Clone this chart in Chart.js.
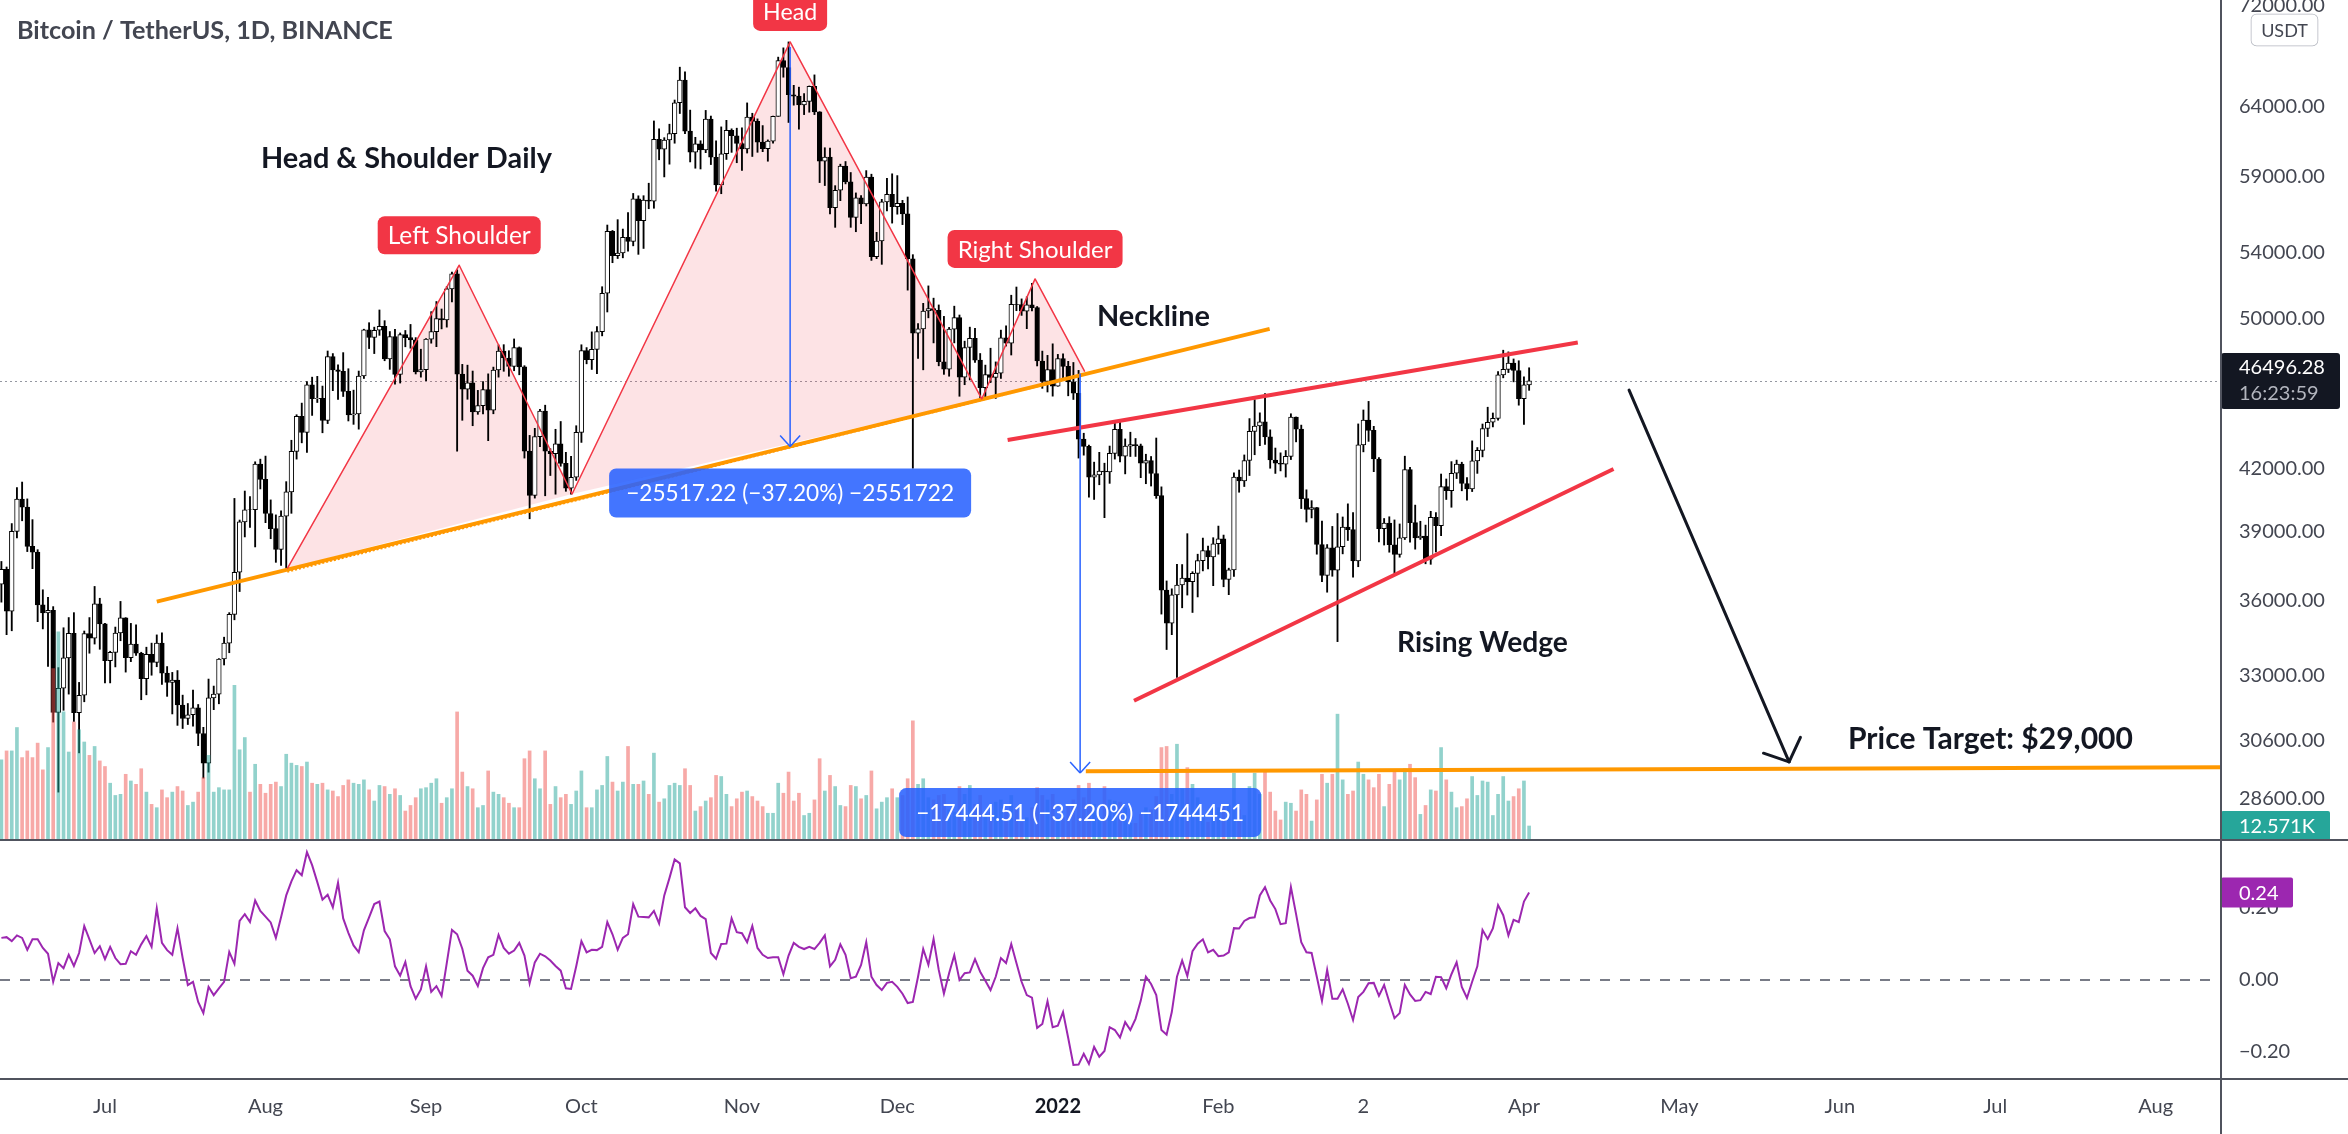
<!DOCTYPE html>
<html><head><meta charset="utf-8">
<script src="https://cdn.jsdelivr.net/npm/chart.js@4.4.1/dist/chart.umd.min.js"></script>
<style>
html,body{margin:0;padding:0;background:#fff;}
body{width:2348px;height:1134px;position:relative;overflow:hidden;}
#main{position:absolute;left:0;top:0;}
#osc{position:absolute;left:0;top:840px;}
.sep{position:absolute;background:#50535e;}
</style></head><body>
<canvas id="main" width="2348" height="840"></canvas>
<canvas id="osc" width="2348" height="294"></canvas>
<div class="sep" style="left:2220px;top:0;width:2px;height:1134px"></div>
<div class="sep" style="left:0;top:839px;width:2348px;height:2px"></div>
<div class="sep" style="left:0;top:1078px;width:2348px;height:2px"></div>
<script>
// ---- DATA: BTC/USDT daily candles, day index 0 = 2021-06-11 ----
const opens=[36694,37340,35556,39021,40517,40144,38350,38093,35820,35484,35601,31608,32510,33679,34660,31594,32243,34650,34456,35867,
35041,33572,33897,34668,35287,33691,34221,33862,32875,33815,33502,34259,33086,32730,32820,31880,31384,31521,31778,30839,29791,32144,32288,33634,34259,35426,37208,39457,40020,40017,42207,
41462,39846,39147,38208,39723,40862,42836,44614,43792,46285,45544,45567,44400,47834,47099,47019,45936,44687,44742,46763,49339,48905,49321,49547,47707,48960,46843,49069,48896,48768,46991,
47111,48811,49246,49999,49915,51756,52663,46863,46048,46395,44851,45174,46026,44940,47093,48133,47753,47281,48330,47260,42844,40694,43574,44896,42840,42716,43209,42236,41034,41564,
43791,48165,47657,48234,49246,51493,55339,53797,53964,54963,54691,57484,56041,57401,57321,61593,60892,61553,62010,64280,66002,62194,60689,61286,60852,63079,60329,58413,60575,62253,61859,
61300,60912,63220,62897,61395,60937,61471,63273,67525,66971,64883,64774,64122,64380,65519,63607,60058,60345,56892,58052,59707,58622,56247,57541,57139,58960,53726,54721,57274,57776,
56950,57184,56480,53602,49153,49397,50441,50589,50472,47545,47140,49390,50054,46702,48343,48864,47632,46131,46834,46681,46914,48890,48589,50838,50821,50429,50809,50640,47588,46464,47120,
46216,47722,47286,46446,45832,43451,43082,41566,41679,41864,41822,42735,43950,42592,43099,43177,43113,42250,42375,41744,40680,36445,35071,36244,36661,36958,36809,37160,37716,38166,37881,
38466,38691,36897,37311,41574,41382,42380,43840,44118,44339,43565,42407,42244,42197,42586,44575,43961,40538,40031,40122,38431,37075,38287,37296,38332,39214,39106,37700,
43160,44421,43892,42455,39148,39397,38420,37988,38730,41941,39422,38730,38807,37777,39671,39280,41114,40918,41757,42201,41262,41002,42364,42882,43991,44313,44511,46828,47128,47465,47063,
45538,46282];
const highs=[37680,37439,39380,41064,41330,40528,39560,38200,36457,36139,35750,33299,34881,35298,35500,32730,34749,35297,36600,36100,
35060,33939,34909,35967,35293,35059,35000,33900,34100,34262,34592,34679,33340,33114,33185,32249,31936,32435,31899,31063,32858,32591,33650,34500,35500,40550,39542,40900,40640,42317,42448,
42599,40480,39780,39969,41350,43392,44700,45310,46454,46700,46743,46218,48144,48000,47372,48053,47160,46000,47033,49382,49757,49500,50500,49875,49248,49380,49165,49309,49657,48900,48245,
48843,50400,51000,50558,51900,52780,52920,47400,47357,47034,45987,46460,46880,47250,48486,48500,48160,48825,48372,47328,43639,44000,44978,45200,42966,43950,44350,42787,42590,44132,
48495,48336,49228,49536,51886,55750,55400,56100,55490,56561,57839,57680,57687,58532,62933,62360,61720,62695,64486,67000,66639,63732,61747,61500,63710,63293,61496,62499,62980,62359,62405,
62437,64270,63500,63086,62595,61560,63286,67789,68524,69000,65600,65460,64971,65550,66401,63617,61000,60977,58366,59845,60029,59266,57875,57700,59398,59150,55280,57445,58865,59176,
59053,57375,57600,53859,49699,50891,51936,51200,50797,50125,49485,50724,50205,48700,49500,49436,48004,47360,48300,47537,49328,49576,51375,51868,51156,51280,52088,50704,48139,47900,48548,
47954,47990,47570,47505,47070,43748,43145,42300,42786,42248,43100,44322,44459,43459,43800,43480,43199,42691,42579,43505,41100,36835,36499,37550,37545,38919,37234,38000,38720,38359,38737,
39265,38856,37387,41772,41913,42656,44500,45492,44799,45821,43921,43000,42760,42876,44751,44583,44164,40959,40444,40125,39494,38429,39249,39843,39683,40295,39886,44225,
44949,45400,44101,42527,39613,39693,39547,39362,42594,42039,40236,39486,39310,39947,39887,41718,41478,42325,42400,42296,41544,43361,43025,44220,45094,44792,46999,48189,48096,47700,47600,
46720,47213];
const lows=[35936,34600,34758,38730,39507,38116,37365,35129,34834,33350,31252,28805,31684,32287,31275,30152,32000,33862,34225,34017,
32712,32711,33326,34357,33125,33532,33780,32077,32261,33005,33333,32658,32203,31550,31133,31020,31164,31108,30407,29278,29482,31708,31925,33401,33881,35205,36383,38772,39200,38323,41000,
39422,38691,37642,37508,37332,39853,42450,43261,42779,44665,45341,43771,44242,45971,45500,45660,44377,44203,43956,46628,48280,48000,49030,47600,47126,46320,46380,48380,48300,46873,46700,
46513,48584,48387,49400,49500,50969,42843,44412,45513,44132,44722,44742,43370,44750,46700,47020,46750,47050,46829,42500,39600,40565,43069,40675,41646,40750,42098,40888,40753,41410,
43283,47430,47120,46891,49000,50382,53357,53617,53661,54080,54415,53879,54250,56818,56850,60150,58963,59844,61322,63481,62000,60000,59562,59510,60650,59817,58000,57820,60174,60673,59945,
59405,60624,60382,60677,60721,60050,61322,63273,66222,62822,64100,62333,63400,63576,63400,58575,58373,56474,55600,57353,58486,55600,55317,55837,57000,53500,53610,53256,56666,55875,
56458,55777,51680,42000,47727,47100,50039,48600,47320,46852,46751,48600,45672,46290,46547,47511,45500,45524,46406,45558,46630,48421,47920,50456,50182,49412,50449,47313,46096,45900,45678,
46208,46654,45696,45502,42500,42645,40610,40501,41200,39650,41268,42450,42311,41725,42578,42581,41541,41250,41139,40553,35440,34008,34601,32917,35701,36234,35507,36155,37268,37351,36632,
38000,36586,36250,37026,40843,41116,41645,42666,43117,43188,42000,41748,41870,41571,42428,43310,40073,39450,39639,38000,36800,36355,37036,34322,38015,38612,37000,37450,
42809,43335,41832,38550,38407,38088,37155,37867,38656,38539,38223,38660,37578,37555,38098,38828,40500,40135,41499,40911,40467,40875,41750,42560,43579,44071,44421,46663,46950,46445,45200,
44200,45988];
const closes=[37340,35556,39021,40517,40144,38350,38093,35820,35484,35601,31608,32510,33679,34660,31594,32243,34650,34456,35867,35041,
33572,33897,34668,35287,33691,34221,33862,32875,33815,33502,34259,33086,32730,32820,31880,31384,31521,31778,30839,29791,32144,32288,33634,34259,35426,37208,39457,40020,40017,42207,41462,
39846,39147,38208,39723,40862,42836,44614,43792,46285,45544,45567,44400,47834,47099,47019,45936,44687,44742,46763,49339,48905,49321,49547,47707,48960,46843,49069,48896,48768,46991,47111,
48811,49246,49999,49915,51756,52663,46863,46048,46395,44851,45174,46026,44940,47093,48133,47753,47281,48330,47260,42844,40694,43574,44896,42840,42716,43209,42236,41034,41564,43791,
48165,47657,48234,49246,51493,55339,53797,53964,54963,54691,57484,56041,57401,57321,61593,60892,61553,62010,64280,66002,62194,60689,61286,60852,63079,60329,58413,60575,62253,61859,61300,
60912,63220,62897,61395,60937,61471,63273,67525,66971,64883,64774,64122,64380,65519,63607,60058,60345,56892,58052,59707,58622,56247,57541,57139,58960,53726,54721,57274,57776,56950,
57184,56480,53602,49153,49397,50441,50589,50472,47545,47140,49390,50054,46702,48343,48864,47632,46131,46834,46681,46914,48890,48589,50838,50821,50429,50809,50640,47588,46464,47120,46216,
47722,47286,46446,45832,43451,43082,41566,41679,41864,41822,42735,43950,42592,43099,43177,43113,42250,42375,41744,40680,36445,35071,36244,36661,36958,36809,37160,37716,38166,37881,38466,
38691,36897,37311,41574,41382,42380,43840,44118,44339,43565,42407,42244,42197,42586,44575,43961,40538,40031,40122,38431,37075,38287,37296,38332,39214,39106,37700,43160,
44421,43892,42455,39148,39397,38420,37988,38730,41941,39422,38730,38807,37777,39671,39280,41114,40918,41757,42201,41262,41002,42364,42882,43991,44313,44511,46828,47128,47465,47063,45538,
46282,46496.28];
const volumesK=[72,80,80,101,74,80,74,87,63,83,154,187,115,79,106,99,88,76,84,71,
66,51,40,41,59,53,50,64,43,32,29,45,38,43,48,44,31,34,43,56,76,43,47,45,45,139,81,92,43,68,
50,42,50,52,48,77,69,67,66,70,51,50,51,45,44,39,49,54,51,50,54,45,35,49,48,41,46,40,26,31,
38,46,47,51,55,33,38,46,115,61,48,46,29,31,62,43,41,38,33,29,29,73,80,55,46,80,32,48,38,41,
32,44,62,29,29,45,49,75,52,44,52,84,50,50,53,41,78,34,37,49,51,49,64,49,26,30,35,38,58,57,
41,30,37,43,44,39,35,30,24,24,51,42,61,35,42,22,24,36,73,44,58,48,31,30,49,48,37,40,62,28,
34,38,46,38,40,55,107,50,55,38,36,40,41,27,25,48,41,49,32,40,23,25,34,36,27,40,27,16,20,29,
47,40,36,41,20,20,30,36,49,38,51,32,20,48,36,35,34,29,15,15,23,29,27,39,83,84,41,86,46,65,
50,38,20,16,28,29,31,31,60,27,22,48,60,41,61,43,26,18,34,33,26,45,41,17,36,59,51,59,113,54,
41,44,70,59,54,47,59,30,50,61,54,64,68,56,23,31,45,44,83,54,43,29,30,37,57,40,53,52,22,41,
57,35,39,46,53,12.571];
const oscValues=[0.117,0.119,0.108,0.124,0.117,0.084,0.113,0.113,0.089,0.073,
-0.005,0.047,0.033,0.070,0.039,0.075,0.150,0.113,0.075,0.094,
0.058,0.092,0.061,0.044,0.045,0.080,0.070,0.099,0.122,0.092,
0.199,0.103,0.083,0.070,0.144,0.061,-0.014,-0.005,-0.061,-0.092,
-0.019,-0.042,-0.023,-0.005,0.078,0.045,0.164,0.183,0.161,0.221,
0.192,0.176,0.160,0.117,0.174,0.235,0.274,0.305,0.291,0.355,
0.319,0.272,0.223,0.237,0.202,0.270,0.171,0.131,0.096,0.077,
0.138,0.174,0.211,0.218,0.136,0.113,0.038,0.012,0.050,-0.017,
-0.052,-0.026,0.038,-0.033,-0.017,-0.044,0.047,0.139,0.127,0.087,
0.026,0.012,-0.017,0.033,0.063,0.070,0.125,0.089,0.073,0.082,
0.103,0.068,-0.009,0.049,0.073,0.066,0.054,0.039,0.026,-0.023,
-0.025,0.038,0.108,0.077,0.084,0.083,0.092,0.161,0.127,0.084,
0.117,0.127,0.211,0.176,0.175,0.174,0.192,0.157,0.235,0.283,
0.335,0.324,0.202,0.186,0.199,0.178,0.169,0.075,0.059,0.100,
0.101,0.171,0.133,0.130,0.105,0.150,0.089,0.070,0.061,0.063,
0.063,0.016,0.068,0.103,0.092,0.086,0.092,0.086,0.103,0.124,
0.038,0.056,0.099,0.070,0.005,0.009,0.042,0.105,0.009,-0.014,
-0.028,-0.008,-0.005,-0.019,-0.038,-0.064,-0.061,0.009,0.086,0.042,
0.114,0.028,-0.038,0.019,0.069,0.000,0.019,0.021,0.058,0.023,
-0.002,-0.028,0.009,0.061,0.047,0.100,0.047,-0.005,-0.042,-0.049,
-0.133,-0.122,-0.059,-0.131,-0.127,-0.089,-0.161,-0.236,-0.235,-0.205,
-0.233,-0.186,-0.213,-0.197,-0.131,-0.139,-0.160,-0.117,-0.139,-0.108,
-0.058,0.009,-0.011,-0.042,-0.139,-0.152,-0.089,0.009,0.054,0.011,
0.080,0.101,0.113,0.077,0.084,0.066,0.068,0.077,0.144,0.143,
0.164,0.172,0.174,0.235,0.258,0.221,0.197,0.155,0.158,0.258,
0.183,0.105,0.077,0.075,0.009,-0.058,0.028,-0.052,-0.052,-0.026,
-0.066,-0.111,-0.047,-0.033,-0.009,-0.008,-0.044,-0.014,-0.061,-0.106,
-0.092,-0.014,-0.040,-0.058,-0.056,-0.033,-0.039,0.009,0.008,-0.023,
0.016,0.049,-0.019,-0.050,-0.005,0.038,0.139,0.114,0.143,0.208,
0.180,0.124,0.167,0.161,0.218,0.243];
const priceTicks=[28600,30600,33000,36000,39000,42000,50000,54000,59000,64000,72000];
const oscTicks=[-0.2,0,0.2];
const monthTickDays=[20,51,82,112,143,173,204,235,263,294,324,355,385,416];
const monthLabels=['Jul','Aug','Sep','Oct','Nov','Dec','2022','Feb','2','Apr','May','Jun','Jul','Aug'];
const countdownText='16:23:59';
// drawings, in (day index, price)
const hsPoints=[[55.2,37365],[88.4,53200],[110.2,40760],[152.3,69000],[189.3,45530],[199.6,52360],[209.2,47000]];
const necklineLine=[[30.0,35960],[244.9,49400]];
const wedgeUpper=[[194.3,43400],[304.4,48620]];
const wedgeLower=[[218.7,32040],[311.3,41960]];
const targetLine=[[209.4,29510],[428.6,29650]];
const forecastArrow=[[314.3,46000],[345.2,29840]];
const measureDays=[152.3,208.3];
const measureFrom=[68595,46894];
const measureTo=[43078,29450];
const measureTexts=['\u221225517.22 (\u221237.20%) \u22122551722','\u221217444.51 (\u221237.20%) \u22121744451'];

// ---- view settings ----
const X_MIN=-0.27, X_MAX=428.6, P_MIN=27243, P_MAX=72451, V_MAX=754.3, O_MIN=-0.275, O_MAX=0.3889;
const AXIS_W=127;
const FONT='Lato';
const TXT='#434651';
Chart.defaults.font.family=FONT;

function fitText(ctx, txt, x, cy, w, weight, color, align){
  ctx.font=weight+' 100px '+FONT;
  const m=ctx.measureText(txt).width;
  const s=100*w/m;
  ctx.font=weight+' '+s.toFixed(2)+'px '+FONT;
  ctx.fillStyle=color; ctx.textAlign=align||'left'; ctx.textBaseline='middle';
  ctx.fillText(txt,x,cy);
  return s;
}
function seg(ctx,a,b,color,w,dash){
  ctx.strokeStyle=color; ctx.lineWidth=w; ctx.setLineDash(dash||[]);
  ctx.beginPath(); ctx.moveTo(a[0],a[1]); ctx.lineTo(b[0],b[1]); ctx.stroke(); ctx.setLineDash([]);
}
function rr(ctx,x,y,w,h,r,fill){ctx.fillStyle=fill;ctx.beginPath();ctx.roundRect(x,y,w,h,r);ctx.fill();}

const up=i=>closes[i]>=opens[i];

const drawings={
  id:'drawings',
  beforeDatasetsDraw(chart){
    const ctx=chart.ctx,a=chart.chartArea,X=chart.scales.x,Y=chart.scales.y;
    const pt=p=>[X.getPixelForValue(p[0]),Y.getPixelForValue(p[1])];
    ctx.save();
    ctx.beginPath();ctx.rect(a.left,a.top,a.right-a.left,a.bottom-a.top);ctx.clip();
    const py=Math.round(Y.getPixelForValue(closes[closes.length-1]))+0.5;
    seg(ctx,[a.left,py],[a.right,py],'#9598a1',1,[2,3]);
    ctx.fillStyle='rgba(242,54,69,0.14)';
    [[0,1,2],[2,3,4],[4,5,6]].forEach(t=>{
      ctx.beginPath();
      t.forEach((k,j)=>{const q=pt(hsPoints[k]); if(j)ctx.lineTo(q[0],q[1]); else ctx.moveTo(q[0],q[1]);});
      ctx.closePath();ctx.fill();
    });
    ctx.restore();
  },
  afterDatasetsDraw(chart){
    const ctx=chart.ctx,a=chart.chartArea,X=chart.scales.x,Y=chart.scales.y;
    const pt=p=>[X.getPixelForValue(p[0]),Y.getPixelForValue(p[1])];
    ctx.save();
    ctx.beginPath();ctx.rect(a.left,a.top,a.right-a.left,a.bottom-a.top);ctx.clip();
    ctx.lineCap='butt';ctx.lineJoin='round';
    // neckline
    seg(ctx,pt(necklineLine[0]),pt(necklineLine[1]),'#FF9800',4);
    const n0=pt(hsPoints[0]),n1=pt(hsPoints[6]);
    seg(ctx,[n0[0],n0[1]+3],[n1[0],n1[1]+3],'#FF9800',2,[2,2]);
    // zigzag
    ctx.strokeStyle='#F23645';ctx.lineWidth=1.5;ctx.beginPath();
    hsPoints.forEach((p,i)=>{const q=pt(p); if(i)ctx.lineTo(q[0],q[1]); else ctx.moveTo(q[0],q[1]);});
    ctx.stroke();
    // wedge
    seg(ctx,pt(wedgeUpper[0]),pt(wedgeUpper[1]),'#F23645',4);
    seg(ctx,pt(wedgeLower[0]),pt(wedgeLower[1]),'#F23645',4);
    // price target line
    seg(ctx,pt(targetLine[0]),pt(targetLine[1]),'#FF9800',4);
    // measures
    const gaps=[22,15];
    measureDays.forEach((d,i)=>{
      const t=pt([d,measureFrom[i]]), b=pt([d,measureTo[i]]);
      seg(ctx,t,b,'#2962FF',1.5);
      seg(ctx,b,[b[0]-10,b[1]-11],'#2962FF',1.5);
      seg(ctx,b,[b[0]+10,b[1]-11],'#2962FF',1.5);
      const bw=362,bh=49,bx=b[0]-bw/2,by=b[1]+gaps[i];
      rr(ctx,bx,by,bw,bh,7,'rgba(41,98,255,0.88)');
      fitText(ctx,measureTexts[i],b[0],by+bh/2+1,328,'normal','#ffffff','center');
    });
    // forecast arrow
    const f0=pt(forecastArrow[0]),f1=pt(forecastArrow[1]);
    ctx.lineCap='round';
    seg(ctx,f0,f1,'#131722',3);
    const ang=Math.atan2(f0[1]-f1[1],f0[0]-f1[0]);
    [-0.84,0.84].forEach(da=>seg(ctx,f1,[f1[0]+27*Math.cos(ang+da),f1[1]+27*Math.sin(ang+da)],'#131722',3));
    ctx.restore();
    // pattern labels
    [[1,'Left Shoulder',143],[3,'Head',54],[5,'Right Shoulder',155]].forEach(l=>{
      const q=pt(hsPoints[l[0]]);
      const bw=l[2]+20,bh=38,by=q[1]-11-bh;
      rr(ctx,q[0]-bw/2,by,bw,bh,7,'#F23645');
      fitText(ctx,l[1],q[0],by+bh/2+1,l[2],'normal','#ffffff','center');
    });
    // text annotations
    fitText(ctx,'Bitcoin / TetherUS, 1D, BINANCE',17,31,376,'bold',TXT);
    fitText(ctx,'Head & Shoulder Daily',261,159,291,'bold','#131722');
    fitText(ctx,'Neckline',1097,317,113,'bold','#131722');
    fitText(ctx,'Rising Wedge',1397,643,171,'bold','#131722');
    fitText(ctx,'Price Target: $29,000',1848,739,285,'bold','#131722');
  },
  afterDraw(chart){
    const ctx=chart.ctx,a=chart.chartArea,Y=chart.scales.y,V=chart.scales.yv;
    ctx.save();
    // USDT badge
    ctx.strokeStyle='#b2b5be';ctx.lineWidth=1.5;ctx.beginPath();ctx.roundRect(2251.5,14.5,66,31,5);ctx.stroke();
    ctx.fillStyle='#ffffff';ctx.fill();
    ctx.font='18px '+FONT;ctx.fillStyle=TXT;ctx.textAlign='center';ctx.textBaseline='middle';ctx.fillText('USDT',2284.5,31);
    // last price label
    const last=closes[closes.length-1];
    const py=Y.getPixelForValue(last);
    rr(ctx,a.right,py-28,119,56,3,'#131722');
    ctx.textAlign='left';ctx.font='20px '+FONT;
    ctx.fillStyle='#ffffff';ctx.fillText(last.toFixed(2),a.right+18,py-13);
    ctx.fillStyle='#b2b5be';ctx.fillText(countdownText,a.right+18,py+13);
    // last volume label
    const lv=volumesK[volumesK.length-1];
    const vy=V.getPixelForValue(lv);
    rr(ctx,a.right,vy-15,109,30,2,'#26A69A');
    ctx.fillStyle='#ffffff';ctx.fillText(lv.toFixed(3)+'K',a.right+18,vy+1);
    ctx.restore();
  }
};

const noPad=s=>{s.paddingTop=0;s.paddingBottom=0;s.paddingLeft=0;s.paddingRight=0;};

new Chart(document.getElementById('main'),{
  type:'bar',
  data:{datasets:[
    {label:'Volume',yAxisID:'yv',order:0,
     data:volumesK.map((v,i)=>({x:i,y:v})),
     backgroundColor:volumesK.map((v,i)=>up(i)?'rgba(38,166,154,0.5)':'rgba(239,83,80,0.5)'),
     maxBarThickness:3,borderWidth:0},
    {label:'Body',yAxisID:'y',order:1,
     data:closes.map((c,i)=>({x:i,y:[opens[i],c]})),
     backgroundColor:closes.map((c,i)=>up(i)?'#ffffff':'#000000'),
     borderColor:'#000000',borderWidth:1,borderSkipped:false,maxBarThickness:4.7},
    {label:'Wick',yAxisID:'y',order:2,
     data:highs.map((h,i)=>({x:i,y:[lows[i],h]})),
     backgroundColor:'#000000',maxBarThickness:1.2,borderWidth:0}
  ]},
  options:{
    animation:false,responsive:false,devicePixelRatio:1,events:[],
    layout:{padding:0},
    datasets:{bar:{grouped:false,barPercentage:1,categoryPercentage:1}},
    plugins:{legend:{display:false},tooltip:{enabled:false}},
    scales:{
      x:{type:'linear',min:X_MIN,max:X_MAX,display:false,offset:false},
      y:{type:'logarithmic',position:'right',min:P_MIN,max:P_MAX,
         afterFit(s){s.width=AXIS_W;noPad(s);},
         afterBuildTicks(s){s.ticks=priceTicks.map(v=>({value:v}));},
         ticks:{callback:v=>Number(v).toFixed(2),padding:18,autoSkip:false,color:TXT,font:{family:FONT,size:20}},
         grid:{display:false,drawTicks:false},border:{display:false}},
      yv:{type:'linear',display:false,min:0,max:V_MAX}
    }
  },
  plugins:[drawings]
});

const oscLabel={
  id:'oscLabel',
  afterDraw(chart){
    const ctx=chart.ctx,a=chart.chartArea,Y=chart.scales.y;
    const v=oscValues[oscValues.length-1];
    const y=Y.getPixelForValue(v);
    ctx.save();
    rr(ctx,a.right,y-15,72,30,2,'#9C27B0');
    ctx.font='20px '+FONT;ctx.fillStyle='#ffffff';ctx.textAlign='left';ctx.textBaseline='middle';
    ctx.fillText(v.toFixed(2),a.right+18,y+1);
    ctx.restore();
  }
};

new Chart(document.getElementById('osc'),{
  type:'line',
  data:{datasets:[
    {label:'Osc',data:oscValues.map((v,i)=>({x:i,y:v})),borderColor:'#9C27B0',borderWidth:2,pointRadius:0,tension:0},
    {label:'Zero',data:[{x:X_MIN,y:0},{x:X_MAX,y:0}],borderColor:'#787B86',borderWidth:2,borderDash:[10,10],pointRadius:0}
  ]},
  options:{
    animation:false,responsive:false,devicePixelRatio:1,events:[],
    layout:{padding:0},
    plugins:{legend:{display:false},tooltip:{enabled:false}},
    scales:{
      x:{type:'linear',position:'bottom',min:X_MIN,max:X_MAX,
         afterFit(s){s.height=55;noPad(s);},
         afterBuildTicks(s){s.ticks=monthTickDays.map(v=>({value:v}));},
         ticks:{autoSkip:false,maxRotation:0,padding:16,
           callback:v=>{const i=monthTickDays.indexOf(v);return i>=0?monthLabels[i]:'';},
           color:c=>(c.tick&&c.tick.value===204)?'#131722':TXT,
           font:c=>({family:FONT,size:20,weight:(c.tick&&c.tick.value===204)?'bold':'normal'})},
         grid:{display:false,drawTicks:false},border:{display:false}},
      y:{type:'linear',position:'right',min:O_MIN,max:O_MAX,
         afterFit(s){s.width=AXIS_W;noPad(s);},
         afterBuildTicks(s){s.ticks=oscTicks.map(v=>({value:v}));},
         ticks:{autoSkip:false,padding:18,color:TXT,font:{family:FONT,size:20},
           callback:v=>(v<0?'\u2212':'')+Math.abs(v).toFixed(2)},
         grid:{display:false,drawTicks:false},border:{display:false}}
    }
  },
  plugins:[oscLabel]
});
</script>
</body></html>
